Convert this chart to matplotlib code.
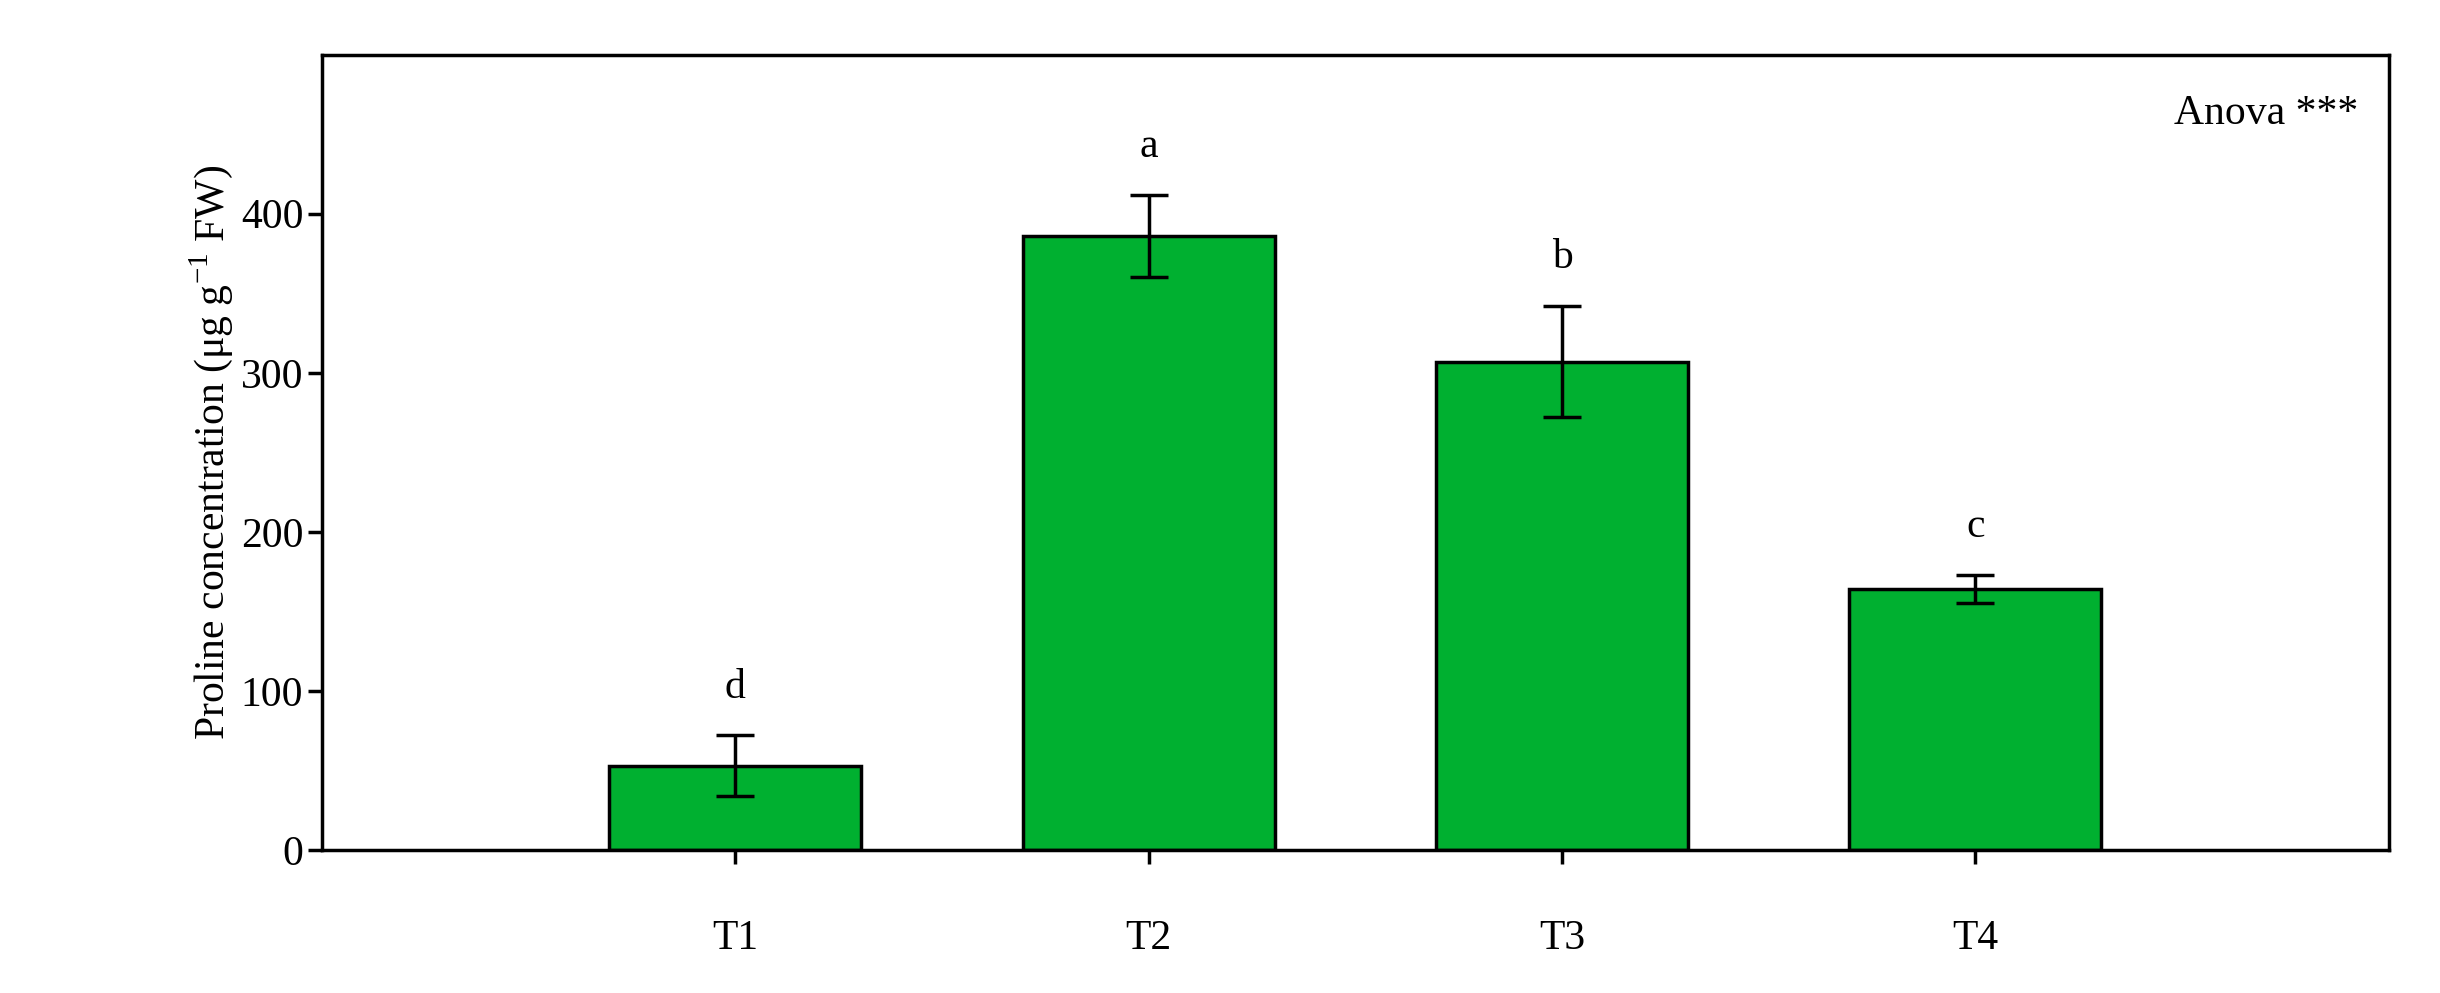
import matplotlib
matplotlib.use("Agg")
import matplotlib.pyplot as plt

categories = ["T1", "T2", "T3", "T4"]
values = [53, 386, 307, 164]
errors = [19, 26, 35, 9]
letters = ["d", "a", "b", "c"]

plt.rcParams['font.family'] = ['Liberation Serif', 'DejaVu Serif']
plt.rcParams['mathtext.fontset'] = 'custom'
plt.rcParams['mathtext.rm'] = 'Liberation Serif'

fig = plt.figure(figsize=(24.4, 9.93), dpi=100)
ax = fig.add_axes([0.132, 0.144, 0.847, 0.801])
x = [1, 2, 3, 4]
ax.bar(x, values, width=0.61, color="#00B030", edgecolor="black", linewidth=2.5, zorder=2)
ax.errorbar(x, values, yerr=errors, fmt="none", ecolor="black", elinewidth=2.5,
            capsize=14, capthick=2.5, zorder=3)
for xi, v, e, l in zip(x, values, errors, letters):
    ax.text(xi, v + e + 18, l, ha="center", va="bottom", fontsize=30)
ax.set_xlim(0, 5)
ax.set_ylim(0, 500)
ax.set_yticks([0, 100, 200, 300, 400])
ax.set_xticks(x)
ax.set_xticklabels(categories)
ax.tick_params(labelsize=30, width=2.5, length=10, direction="out")
ax.tick_params(axis="x", pad=40)
for s in ax.spines.values():
    s.set_linewidth(2.5)
ax.set_ylabel("Proline concentration (μg g$^{-1}$ FW)", fontsize=30)
ax.text(0.985, 0.95, "Anova ***", transform=ax.transAxes, ha="right", va="top", fontsize=30)
fig.savefig("out.png", dpi=100)
